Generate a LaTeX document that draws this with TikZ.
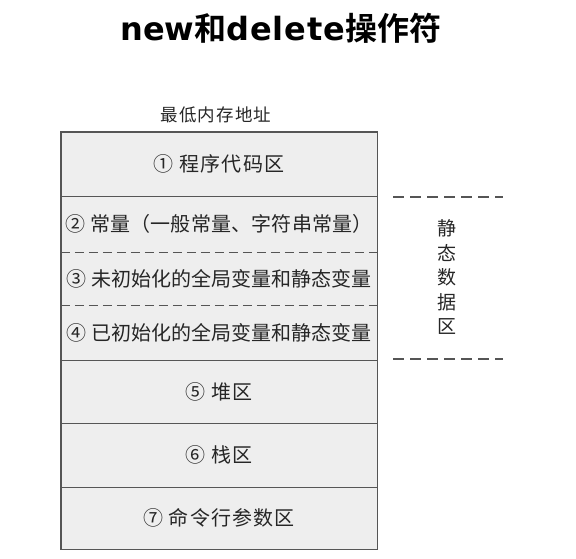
\documentclass[tikz,border=0pt]{standalone}
\usepackage{fontspec}
\setmainfont{Noto Sans CJK SC}
\newfontfamily\titlefont{Noto Sans CJK SC Bold}
\newfontfamily\titlelatin{DejaVu Sans Bold}
\newfontfamily\widefont{Noto Sans CJK SC}[LetterSpace=6]
\definecolor{boxfill}{HTML}{EEEEEE}
\definecolor{linegray}{HTML}{555555}
\definecolor{textgray}{HTML}{262626}

\begin{document}
\begin{tikzpicture}[x=1pt,y=-1pt,
  region/.style={fill=boxfill, minimum width=316pt, inner sep=0pt, text=textgray, font=\fontsize{20}{24}\selectfont},
  sep/.style={draw=linegray, line width=1.4pt},
  dashsep/.style={draw=linegray, line width=1.2pt, dash pattern=on 9pt off 5pt}]
  \useasboundingbox (0,0) rectangle (576,558);
  \node[font=\titlefont\fontsize{32}{36}\selectfont] (title) at (281,28) {{\titlelatin new}和{\titlelatin\addfontfeature{LetterSpace=3}delete}操作符};
  \node[text=textgray, font=\widefont\fontsize{17.5}{20}\selectfont] (lowaddr) at (216,115) {最低内存地址};
  \node[region, minimum height=64pt] (r1) at (219,164) {\widefont ① 程序代码区};
  \node[region, minimum height=56pt] (r2) at (219,224) {\addfontfeature{LetterSpace=1}② 常量（一般常量、字符串常量）};
  \node[region, minimum height=53pt] (r3) at (219,278.5) {③ 未初始化的全局变量和静态变量};
  \node[region, minimum height=55pt] (r4) at (219,332.5) {④ 已初始化的全局变量和静态变量};
  \node[region, minimum height=63pt] (r5) at (219,391.5) {\widefont ⑤ 堆区};
  \node[region, minimum height=64pt] (r6) at (219,455) {\widefont ⑥ 栈区};
  \node[region, minimum height=62pt] (r7) at (219,518) {\widefont ⑦ 命令行参数区};
  \draw[sep] (r1.north west) rectangle (r7.south east);
  \draw[sep] (r1.south west) -- (r1.south east);
  \draw[dashsep] (r2.south west) -- (r2.south east);
  \draw[dashsep] (r3.south west) -- (r3.south east);
  \draw[sep] (r4.south west) -- (r4.south east);
  \draw[sep] (r5.south west) -- (r5.south east);
  \draw[sep] (r6.south west) -- (r6.south east);
  \coordinate (topa) at (393,197);
  \coordinate (topb) at (503,197);
  \coordinate (bota) at (393,359);
  \coordinate (botb) at (503,359);
  \draw[dashsep, dash pattern=on 11pt off 6pt] (topa) -- (topb);
  \draw[dashsep, dash pattern=on 11pt off 6pt] (bota) -- (botb);
  \node[text=textgray, align=center, font=\fontsize{19}{24.5}\selectfont] (static) at (447,277) {静\\态\\数\\据\\区};
\end{tikzpicture}
\end{document}
